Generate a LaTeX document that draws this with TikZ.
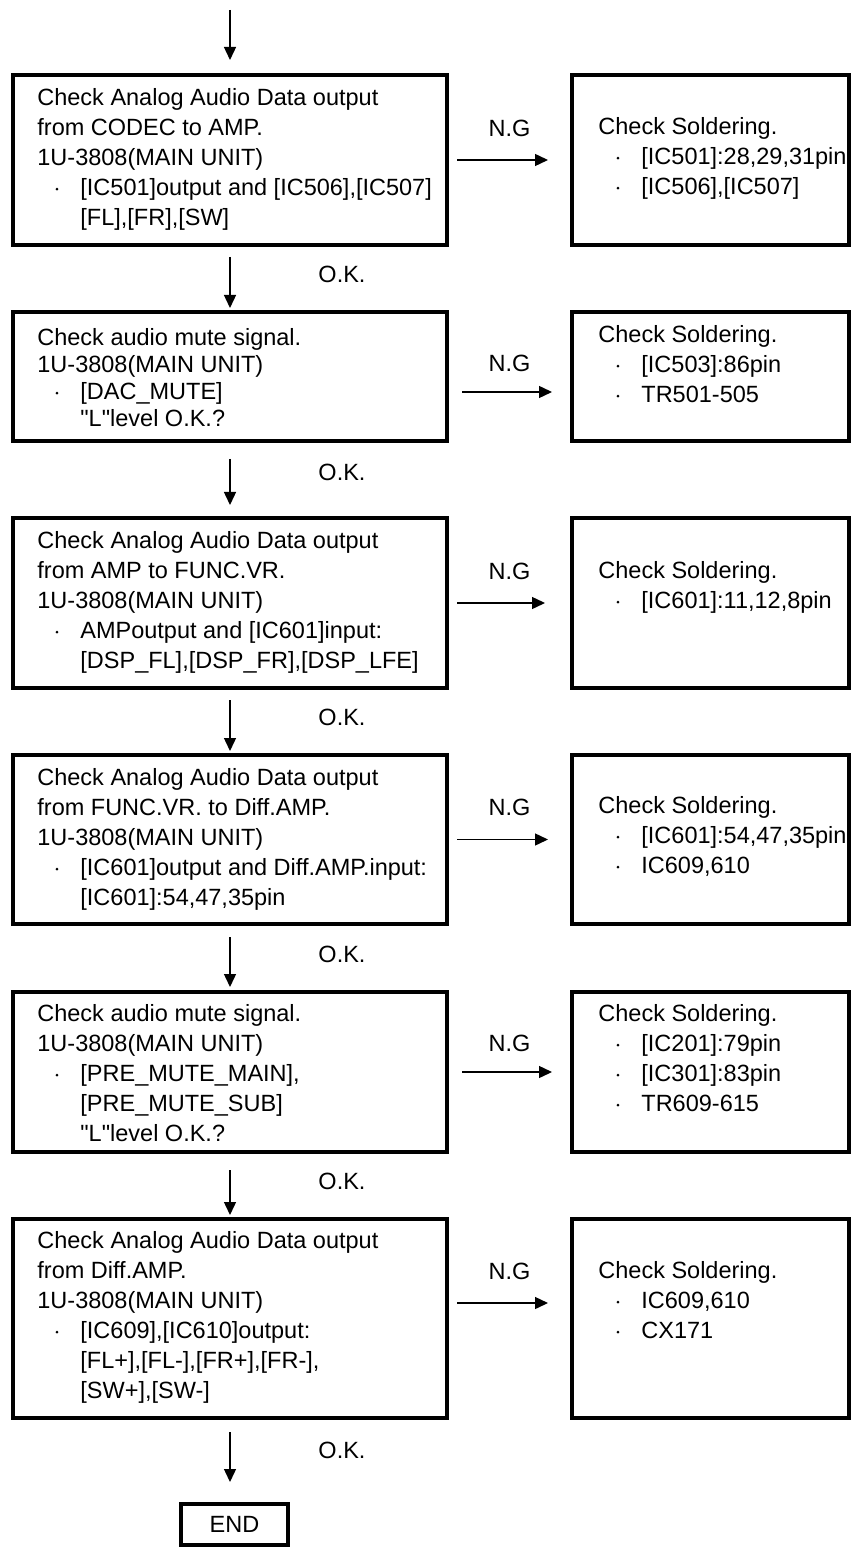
\documentclass[tikz,border=0pt]{standalone}
\usepackage{fontspec}
\setmainfont{Liberation Sans}
\usetikzlibrary{arrows.meta,positioning}
\newcommand{\dotitem}{\makebox[21.5pt][l]{\hspace{9pt}\raisebox{2.4pt}{\tikz\fill (0,0) circle (0.75pt);}}}
\newcommand{\contind}{\hspace*{21.5pt}}
\newcommand{\qL}{\textquotedbl L\textquotedbl}
\tikzset{
  every node/.style={font=\fontsize{11.75pt}{15pt}\selectfont},
  checkbox/.style={draw, line width=1.6pt, minimum width=217pt, outer sep=0pt, inner sep=0pt},
  solderbox/.style={draw, line width=1.6pt, minimum width=138.5pt, outer sep=0pt, inner sep=0pt},
  boxtext/.style={anchor=north west, inner sep=0pt, align=left},
  flow/.style={-{Triangle[length=6.5pt,width=6pt]}, line width=0.7pt},
  okstep/.style={flow, shorten <=6pt, shorten >=2pt},
  ngstep/.style={flow, shorten <=5pt, shorten >=12pt},
  oklabel/.style={midway, xshift=56pt, yshift=2pt},
  nglabel/.style={midway, yshift=16pt},
}
\begin{document}
\begin{tikzpicture}[x=0.5pt, y=-0.5pt]
  \useasboundingbox (0,0) rectangle (858,1550);
  % check boxes, left column
  \node[checkbox, minimum height=85pt] (b1) at (230,160) {};
  \node[checkbox, minimum height=64.5pt, below=33.5pt of b1] (b2) {};
  \node[checkbox, minimum height=85pt, below=38.5pt of b2] (b3) {};
  \node[checkbox, minimum height=84.5pt, below=33.5pt of b3] (b4) {};
  \node[checkbox, minimum height=80pt, below=34pt of b4] (b5) {};
  \node[checkbox, minimum height=99.5pt, below=33.5pt of b5] (b6) {};
  \node[draw, line width=1.6pt, outer sep=0pt, minimum width=53.5pt, minimum height=20.5pt,
        below=43pt of b6, xshift=2.25pt] (done) {END};
  % soldering boxes, right column
  \node[solderbox, minimum height=85pt, right=62.5pt of b1] (r1) {};
  \node[solderbox, minimum height=64.5pt, right=62.5pt of b2] (r2) {};
  \node[solderbox, minimum height=85pt, right=62.5pt of b3] (r3) {};
  \node[solderbox, minimum height=84.5pt, right=62.5pt of b4] (r4) {};
  \node[solderbox, minimum height=80pt, right=62.5pt of b5] (r5) {};
  \node[solderbox, minimum height=99.5pt, right=62.5pt of b6] (r6) {};

  % texts of the checks
  \node[boxtext] (t1) at ([xshift=12pt, yshift=-6.5pt]b1.north west)
    {Check Analog Audio Data output\\
     from CODEC to AMP.\\
     1U-3808(MAIN UNIT)\\
     \dotitem[IC501]output and [IC506],[IC507]\\
     \contind[FL],[FR],[SW]};
  \node[boxtext, font=\fontsize{11.75pt}{13.5pt}\selectfont] (t2) at ([xshift=12pt, yshift=-8pt]b2.north west)
    {Check audio mute signal.\\
     1U-3808(MAIN UNIT)\\
     \dotitem[DAC\_MUTE]\\
     \contind\qL level O.K.?};
  \node[boxtext] (t3) at ([xshift=12pt, yshift=-6.5pt]b3.north west)
    {Check Analog Audio Data output\\
     from AMP to FUNC.VR.\\
     1U-3808(MAIN UNIT)\\
     \dotitem AMPoutput and [IC601]input:\\
     \contind[DSP\_FL],[DSP\_FR],[DSP\_LFE]};
  \node[boxtext] (t4) at ([xshift=12pt, yshift=-6.5pt]b4.north west)
    {Check Analog Audio Data output\\
     from FUNC.VR. to Diff.AMP.\\
     1U-3808(MAIN UNIT)\\
     \dotitem[IC601]output and Diff.AMP.input:\\
     \contind[IC601]:54,47,35pin};
  \node[boxtext] (t5) at ([xshift=12pt, yshift=-6pt]b5.north west)
    {Check audio mute signal.\\
     1U-3808(MAIN UNIT)\\
     \dotitem[PRE\_MUTE\_MAIN],\\
     \contind[PRE\_MUTE\_SUB]\\
     \contind\qL level O.K.?};
  \node[boxtext] (t6) at ([xshift=12pt, yshift=-6pt]b6.north west)
    {Check Analog Audio Data output\\
     from Diff.AMP.\\
     1U-3808(MAIN UNIT)\\
     \dotitem[IC609],[IC610]output:\\
     \contind[FL+],[FL-],[FR+],[FR-],\\
     \contind[SW+],[SW-]};

  % texts of the soldering checks
  \node[boxtext] (s1) at ([xshift=13pt, yshift=-21pt]r1.north west)
    {Check Soldering.\\ \dotitem[IC501]:28,29,31pin\\ \dotitem[IC506],[IC507]};
  \node[boxtext] (s2) at ([xshift=13pt, yshift=-6.5pt]r2.north west)
    {Check Soldering.\\ \dotitem[IC503]:86pin\\ \dotitem TR501-505};
  \node[boxtext] (s3) at ([xshift=13pt, yshift=-21.5pt]r3.north west)
    {Check Soldering.\\ \dotitem[IC601]:11,12,8pin};
  \node[boxtext] (s4) at ([xshift=13pt, yshift=-20.5pt]r4.north west)
    {Check Soldering.\\ \dotitem[IC601]:54,47,35pin\\ \dotitem IC609,610};
  \node[boxtext] (s5) at ([xshift=13pt, yshift=-6pt]r5.north west)
    {Check Soldering.\\ \dotitem[IC201]:79pin\\ \dotitem[IC301]:83pin\\ \dotitem TR609-615};
  \node[boxtext] (s6) at ([xshift=13pt, yshift=-21pt]r6.north west)
    {Check Soldering.\\ \dotitem IC609,610\\ \dotitem CX171};

  % O.K. path
  \coordinate (entry) at (230,10);
  \draw[flow, shorten >=7.5pt] (entry) -- (b1);
  \draw[okstep] (b1) -- node[oklabel] {O.K.} (b2);
  \draw[okstep, shorten <=9pt, shorten >=6.5pt] (b2) -- node[oklabel, yshift=1.5pt] {O.K.} (b3);
  \draw[okstep] (b3) -- node[oklabel] {O.K.} (b4);
  \draw[okstep, shorten <=6.5pt, shorten >=2.5pt] (b4) -- node[oklabel] {O.K.} (b5);
  \draw[okstep, shorten <=9pt] (b5) -- node[oklabel] {O.K.} (b6);
  \draw[okstep, shorten <=7pt, shorten >=11pt] (b6.south) -- node[oklabel, yshift=3.5pt] {O.K.} (b6.south |- done.north);

  % N.G branches
  \draw[ngstep] (b1) -- node[nglabel] {N.G} (r1);
  \draw[ngstep, shorten <=7.5pt, shorten >=10pt] ([yshift=-7.75pt]b2.east) -- node[nglabel, yshift=-1.5pt] {N.G} ([yshift=-7.75pt]r2.west);
  \draw[ngstep, shorten >=13.5pt] (b3) -- node[nglabel] {N.G} (r3);
  \draw[ngstep] (b4) -- node[nglabel] {N.G} (r4);
  \draw[ngstep, shorten <=7.5pt, shorten >=10pt] (b5) -- node[nglabel, yshift=-1.5pt] {N.G} (r5);
  \draw[ngstep] ([yshift=7.75pt]b6.east) -- node[nglabel] {N.G} ([yshift=7.75pt]r6.west);
\end{tikzpicture}
\end{document}
